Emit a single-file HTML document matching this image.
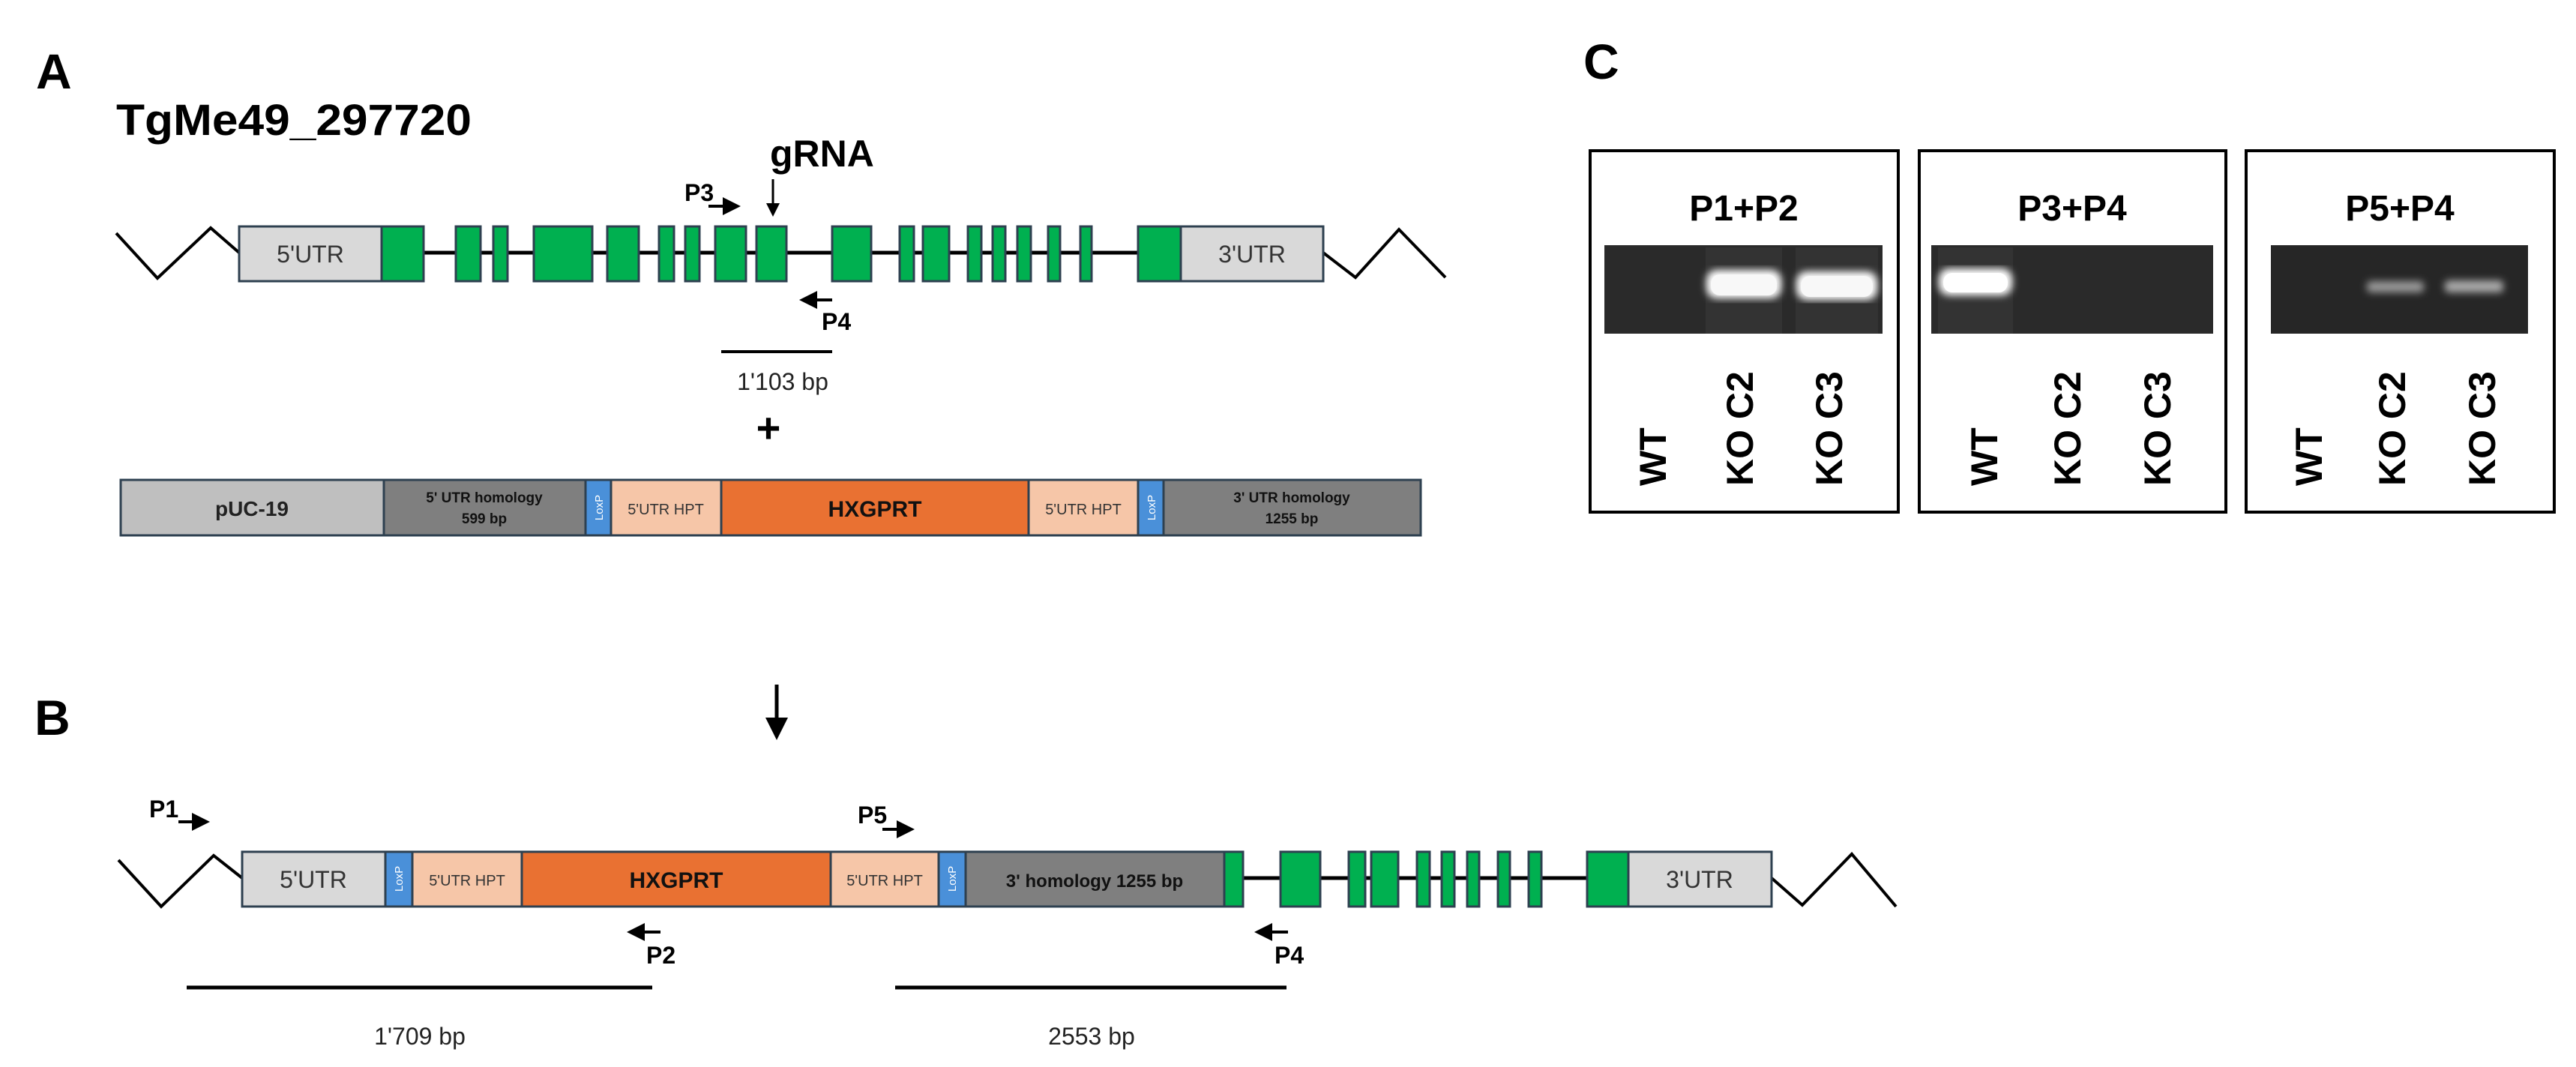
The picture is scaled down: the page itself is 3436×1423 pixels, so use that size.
<!DOCTYPE html>
<html><head><meta charset="utf-8"><style>html,body{margin:0;padding:0;background:#fff}svg{display:block}</style></head>
<body>
<svg width="3436" height="1423" viewBox="0 0 3436 1423" xmlns="http://www.w3.org/2000/svg" font-family="Liberation Sans, Arial, sans-serif">
<defs>
<marker id="ah" markerWidth="6" markerHeight="6" refX="5" refY="3" orient="auto" markerUnits="strokeWidth"><path d="M0,0 L6,3 L0,6 z" fill="#000"/></marker>
<filter id="glow"><feGaussianBlur stdDeviation="5"/></filter>
</defs>
<rect width="3436" height="1423" fill="#fff"/>
<text x="48" y="118" font-size="66" font-weight="bold">A</text>
<text x="155" y="180" font-size="58" font-weight="bold" textLength="474" lengthAdjust="spacingAndGlyphs">TgMe49_297720</text>
<polyline points="155,311 210,371 281,304 319,337" fill="none" stroke="#000" stroke-width="4"/>
<polyline points="1765,337 1808,370 1866,306 1928,370" fill="none" stroke="#000" stroke-width="4"/>
<line x1="509" y1="337" x2="1575" y2="337" stroke="#000" stroke-width="5"/>
<g stroke="#2e4050" stroke-width="3">
<rect x="319" y="302" width="190" height="73" fill="#d9d9d9"/>
<rect x="1575" y="302" width="190" height="73" fill="#d9d9d9"/>
<g fill="#00b050">
<rect x="509" y="302" width="56" height="73"/>
<rect x="608" y="302" width="33" height="73"/>
<rect x="658" y="302" width="19" height="73"/>
<rect x="712" y="302" width="78" height="73"/>
<rect x="810" y="302" width="42" height="73"/>
<rect x="879" y="302" width="20" height="73"/>
<rect x="914" y="302" width="19" height="73"/>
<rect x="954" y="302" width="41" height="73"/>
<rect x="1009" y="302" width="40" height="73"/>
<rect x="1110" y="302" width="52" height="73"/>
<rect x="1200" y="302" width="19" height="73"/>
<rect x="1231" y="302" width="35" height="73"/>
<rect x="1291" y="302" width="18" height="73"/>
<rect x="1324" y="302" width="17" height="73"/>
<rect x="1357" y="302" width="18" height="73"/>
<rect x="1398" y="302" width="16" height="73"/>
<rect x="1441" y="302" width="15" height="73"/>
<rect x="1518" y="302" width="57" height="73"/>
</g></g>
<text x="414" y="350" font-size="32" text-anchor="middle" fill="#333">5'UTR</text>
<text x="1670" y="350" font-size="32" text-anchor="middle" fill="#333">3'UTR</text>
<text x="1027" y="222" font-size="50" font-weight="bold">gRNA</text>
<line x1="1031" y1="239" x2="1031" y2="286" stroke="#000" stroke-width="3" marker-end="url(#ah)"/>
<text x="913" y="268" font-size="32" font-weight="bold">P3</text>
<line x1="945" y1="275" x2="984" y2="275" stroke="#000" stroke-width="4" marker-end="url(#ah)"/>
<line x1="1110" y1="400" x2="1070" y2="400" stroke="#000" stroke-width="4" marker-end="url(#ah)"/>
<text x="1096" y="440" font-size="32" font-weight="bold">P4</text>
<line x1="962" y1="469" x2="1110" y2="469" stroke="#000" stroke-width="4"/>
<text x="1044" y="520" font-size="32" text-anchor="middle" fill="#222">1'103 bp</text>
<text x="1025" y="590" font-size="56" font-weight="bold" text-anchor="middle">+</text>
<g stroke="#2e4050" stroke-width="3">
<rect x="161" y="640" width="351" height="74" fill="#bfbfbf"/>
<rect x="512" y="640" width="269" height="74" fill="#7f7f7f"/>
<rect x="781" y="640" width="34" height="74" fill="#4a90d9"/>
<rect x="815" y="640" width="147" height="74" fill="#f6c6a8"/>
<rect x="962" y="640" width="410" height="74" fill="#e97132"/>
<rect x="1372" y="640" width="146" height="74" fill="#f6c6a8"/>
<rect x="1518" y="640" width="34" height="74" fill="#4a90d9"/>
<rect x="1552" y="640" width="343" height="74" fill="#7f7f7f"/>
</g>
<text x="336" y="688" font-size="28" font-weight="bold" text-anchor="middle" fill="#222">pUC-19</text>
<text x="646" y="670" font-size="19" font-weight="bold" text-anchor="middle" fill="#111">5' UTR homology</text>
<text x="646" y="698" font-size="19" font-weight="bold" text-anchor="middle" fill="#111">599 bp</text>
<text x="1723" y="670" font-size="19" font-weight="bold" text-anchor="middle" fill="#111">3' UTR homology</text>
<text x="1723" y="698" font-size="19" font-weight="bold" text-anchor="middle" fill="#111">1255 bp</text>
<text x="888" y="686" font-size="20" text-anchor="middle" fill="#333">5'UTR HPT</text>
<text x="1445" y="686" font-size="20" text-anchor="middle" fill="#333">5'UTR HPT</text>
<text x="1167" y="689" font-size="30" font-weight="bold" text-anchor="middle" fill="#111">HXGPRT</text>
<text transform="translate(804,677) rotate(-90)" font-size="15" text-anchor="middle" fill="#fff">LoxP</text>
<text transform="translate(1541,677) rotate(-90)" font-size="15" text-anchor="middle" fill="#fff">LoxP</text>
<text x="46" y="980" font-size="66" font-weight="bold">B</text>
<line x1="1036" y1="913" x2="1036" y2="982" stroke="#000" stroke-width="5" marker-end="url(#ah)"/>
<text x="199" y="1090" font-size="32" font-weight="bold">P1</text>
<line x1="238" y1="1096" x2="276" y2="1096" stroke="#000" stroke-width="4" marker-end="url(#ah)"/>
<text x="1144" y="1098" font-size="32" font-weight="bold">P5</text>
<line x1="1177" y1="1106" x2="1216" y2="1106" stroke="#000" stroke-width="4" marker-end="url(#ah)"/>
<polyline points="158,1147 215,1209 285,1141 323,1171" fill="none" stroke="#000" stroke-width="4"/>
<polyline points="2363,1171 2404,1207 2470,1139 2529,1209" fill="none" stroke="#000" stroke-width="4"/>
<line x1="1658" y1="1171" x2="2117" y2="1171" stroke="#000" stroke-width="5"/>
<g stroke="#2e4050" stroke-width="3">
<rect x="323" y="1136" width="191" height="73" fill="#d9d9d9"/>
<rect x="514" y="1136" width="36" height="73" fill="#4a90d9"/>
<rect x="550" y="1136" width="146" height="73" fill="#f6c6a8"/>
<rect x="696" y="1136" width="412" height="73" fill="#e97132"/>
<rect x="1108" y="1136" width="144" height="73" fill="#f6c6a8"/>
<rect x="1252" y="1136" width="36" height="73" fill="#4a90d9"/>
<rect x="1288" y="1136" width="345" height="73" fill="#7f7f7f"/>
<rect x="2172" y="1136" width="191" height="73" fill="#d9d9d9"/>
<g fill="#00b050">
<rect x="1633" y="1136" width="25" height="73"/>
<rect x="1708" y="1136" width="53" height="73"/>
<rect x="1799" y="1136" width="22" height="73"/>
<rect x="1829" y="1136" width="36" height="73"/>
<rect x="1890" y="1136" width="17" height="73"/>
<rect x="1923" y="1136" width="17" height="73"/>
<rect x="1957" y="1136" width="16" height="73"/>
<rect x="1998" y="1136" width="16" height="73"/>
<rect x="2039" y="1136" width="17" height="73"/>
<rect x="2117" y="1136" width="55" height="73"/>
</g></g>
<text x="418" y="1184" font-size="32" text-anchor="middle" fill="#333">5'UTR</text>
<text x="2267" y="1184" font-size="32" text-anchor="middle" fill="#333">3'UTR</text>
<text x="623" y="1181" font-size="20" text-anchor="middle" fill="#333">5'UTR HPT</text>
<text x="1180" y="1181" font-size="20" text-anchor="middle" fill="#333">5'UTR HPT</text>
<text x="902" y="1184" font-size="30" font-weight="bold" text-anchor="middle" fill="#111">HXGPRT</text>
<text x="1460" y="1183" font-size="24" font-weight="bold" text-anchor="middle" fill="#111">3' homology 1255 bp</text>
<text transform="translate(537,1172) rotate(-90)" font-size="15" text-anchor="middle" fill="#fff">LoxP</text>
<text transform="translate(1275,1172) rotate(-90)" font-size="15" text-anchor="middle" fill="#fff">LoxP</text>
<line x1="881" y1="1243" x2="840" y2="1243" stroke="#000" stroke-width="4" marker-end="url(#ah)"/>
<text x="862" y="1285" font-size="32" font-weight="bold">P2</text>
<line x1="1718" y1="1243" x2="1677" y2="1243" stroke="#000" stroke-width="4" marker-end="url(#ah)"/>
<text x="1700" y="1285" font-size="32" font-weight="bold">P4</text>
<line x1="249" y1="1317" x2="870" y2="1317" stroke="#000" stroke-width="5"/>
<line x1="1194" y1="1317" x2="1716" y2="1317" stroke="#000" stroke-width="5"/>
<text x="560" y="1393" font-size="32" text-anchor="middle" fill="#222">1'709 bp</text>
<text x="1456" y="1393" font-size="32" text-anchor="middle" fill="#222">2553 bp</text>
<text x="2112" y="105" font-size="66" font-weight="bold">C</text>
<g stroke="#000" stroke-width="4" fill="none">
<rect x="2121" y="201" width="411" height="482"/>
<rect x="2560" y="201" width="409" height="482"/>
<rect x="2996" y="201" width="411" height="482"/>
</g>
<g font-size="48" font-weight="bold" text-anchor="middle">
<text x="2326" y="294">P1+P2</text>
<text x="2764" y="294">P3+P4</text>
<text x="3201" y="294">P5+P4</text>
</g>
<rect x="2140" y="327" width="371" height="118" fill="#2a2a2a"/>
<rect x="2576" y="327" width="376" height="118" fill="#2a2a2a"/>
<rect x="3029" y="327" width="343" height="118" fill="#262626"/>
<rect x="2275" y="330" width="102" height="115" fill="#333"/>
<rect x="2395" y="330" width="110" height="115" fill="#333"/>
<rect x="2585" y="330" width="100" height="115" fill="#333"/>
<g filter="url(#glow)">
<rect x="2276" y="360" width="100" height="38" rx="14" fill="#fff"/>
<rect x="2396" y="362" width="108" height="38" rx="14" fill="#fff"/>
<rect x="2586" y="358" width="98" height="36" rx="14" fill="#fff"/>
<rect x="3157" y="375" width="76" height="15" rx="5" fill="#999"/>
<rect x="3261" y="374" width="78" height="16" rx="5" fill="#aaa"/>
</g>
<rect x="2282" y="366" width="88" height="28" rx="12" fill="#f8f8f8"/>
<rect x="2402" y="368" width="96" height="28" rx="12" fill="#f8f8f8"/>
<rect x="2592" y="364" width="86" height="26" rx="12" fill="#fff"/>
<g font-size="50" font-weight="bold">
<text transform="translate(2222,648) rotate(-90)">WT</text>
<text transform="translate(2338,648) rotate(-90)">KO C2</text>
<text transform="translate(2457,648) rotate(-90)">KO C3</text>
<text transform="translate(2664,648) rotate(-90)">WT</text>
<text transform="translate(2775,648) rotate(-90)">KO C2</text>
<text transform="translate(2895,648) rotate(-90)">KO C3</text>
<text transform="translate(3097,648) rotate(-90)">WT</text>
<text transform="translate(3208,648) rotate(-90)">KO C2</text>
<text transform="translate(3328,648) rotate(-90)">KO C3</text>
</g>
</svg>
</body></html>
